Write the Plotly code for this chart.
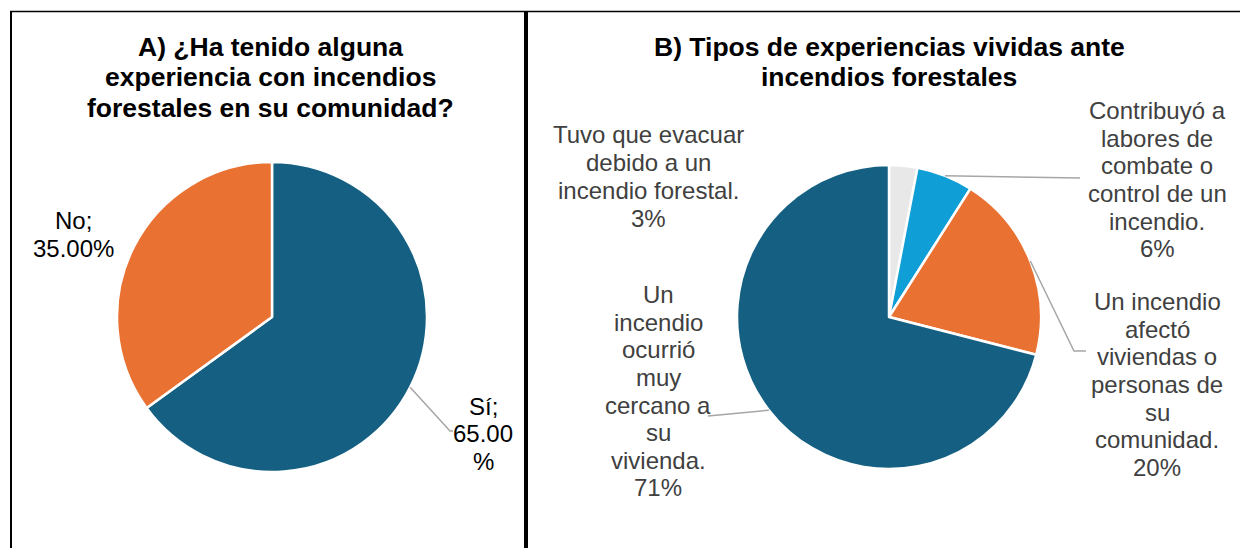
import math
import plotly.graph_objects as go

W, H = 1240, 548

# ---- Panel A: experiencia con incendios forestales ----
a_labels = ["Sí", "No"]
a_values = [65.0, 35.0]
a_colors = ["#156082", "#E97132"]
a_title = ["A) ¿Ha tenido alguna", "experiencia con incendios", "forestales en su comunidad?"]

# ---- Panel B: tipos de experiencias vividas ----
b_labels = [
    "Tuvo que evacuar debido a un incendio forestal.",
    "Contribuyó a labores de combate o control de un incendio.",
    "Un incendio afectó viviendas o personas de su comunidad.",
    "Un incendio ocurrió muy cercano a su vivienda.",
]
b_values = [3, 6, 20, 71]
b_colors = ["#E8E8E8", "#0F9ED5", "#E97132", "#156082"]
b_title = ["B) Tipos de experiencias vividas ante", "incendios forestales"]

# line breaks used for the wrapped data labels of panel B
b_wrapped = [
    ["Tuvo que evacuar", "debido a un", "incendio forestal."],
    ["Contribuyó a", "labores de", "combate o", "control de un", "incendio."],
    ["Un incendio", "afectó", "viviendas o", "personas de", "su", "comunidad."],
    ["Un", "incendio", "ocurrió", "muy", "cercano a", "su", "vivienda."],
]

FONT = "Liberation Sans, Arial, sans-serif"
LEADER = "#A6A6A6"

# pie geometry (pixels): centre x, centre y, radius
A_GEO = (272, 317, 155)
B_GEO = (889, 317, 152)


def px(x):
    return x / W


def py(y):
    return 1 - y / H


def domain(geo):
    cx, cy, r = geo
    return dict(x=[px(cx - r), px(cx + r)], y=[py(cy + r), py(cy - r)])


def mid_point(values, i, geo):
    """Point on the rim at the middle of slice i (clockwise from 12 o'clock)."""
    cx, cy, r = geo
    total = sum(values)
    frac = (sum(values[:i]) + values[i] / 2) / total
    th = 2 * math.pi * frac
    return cx + r * math.sin(th), cy - r * math.cos(th)


fig = go.Figure()

fig.add_trace(go.Pie(
    labels=a_labels, values=a_values, sort=False, direction="clockwise", rotation=0,
    marker=dict(colors=a_colors, line=dict(color="white", width=2.5)),
    textinfo="none", hoverinfo="label+percent", showlegend=False,
    domain=domain(A_GEO),
))
fig.add_trace(go.Pie(
    labels=b_labels, values=b_values, sort=False, direction="clockwise", rotation=0,
    marker=dict(colors=b_colors, line=dict(color="white", width=2.5)),
    textinfo="none", hoverinfo="label+percent", showlegend=False,
    domain=domain(B_GEO),
))

annotations = []
shapes = []


def text_block(lines, cx, first_base, step, size, color, bold=False):
    for k, line in enumerate(lines):
        base = first_base + k * step
        annotations.append(dict(
            x=px(cx), y=py(base - 0.36 * size), xref="paper", yref="paper",
            text=f"<b>{line}</b>" if bold else line, showarrow=False,
            xanchor="center", yanchor="middle",
            font=dict(family=FONT, size=size, color=color),
        ))


def leader(points):
    path = "M " + " L ".join(f"{px(x)},{py(y)}" for x, y in points)
    shapes.append(dict(type="path", path=path, xref="paper", yref="paper",
                       line=dict(color=LEADER, width=1.5)))


# titles
text_block(a_title, 270, 56.5, 30.5, 26.5, "#000000", bold=True)
text_block(b_title, 889, 56.5, 30.5, 26.5, "#000000", bold=True)

# panel A labels
text_block([f"{a_labels[1]};", f"{a_values[1]:.2f}%"], 73, 229, 28, 24, "#000000")
si_pct = f"{a_values[0]:.2f}%"
text_block([f"{a_labels[0]};", si_pct[:-1], si_pct[-1:]], 483, 415, 27.6, 24, "#000000")
leader([mid_point(a_values, 0, A_GEO), (450, 431), (453, 431)])

# panel B labels
LBL = "#404040"
text_block(b_wrapped[0] + [f"{b_values[0]}%"], 648, 143, 28, 24, LBL)
text_block(b_wrapped[1] + [f"{b_values[1]}%"], 1157, 119.3, 27.6, 24, LBL)
text_block(b_wrapped[2] + [f"{b_values[2]}%"], 1157, 310, 27.7, 24, LBL)
text_block(b_wrapped[3] + [f"{b_values[3]}%"], 658, 303.3, 27.6, 24, LBL)

leader([mid_point(b_values, 1, B_GEO), (1080, 178)])
leader([mid_point(b_values, 2, B_GEO), (1074, 351), (1086, 351)])
leader([mid_point(b_values, 3, B_GEO), (708, 416)])

# panel frame lines
shapes.append(dict(type="line", xref="paper", yref="paper",
                   x0=px(10), x1=px(1240), y0=py(11.5), y1=py(11.5),
                   line=dict(color="black", width=1.5)))
shapes.append(dict(type="line", xref="paper", yref="paper",
                   x0=px(11), x1=px(11), y0=py(11), y1=py(548),
                   line=dict(color="black", width=2)))
shapes.append(dict(type="line", xref="paper", yref="paper",
                   x0=px(526), x1=px(526), y0=py(11), y1=py(548),
                   line=dict(color="black", width=4)))

fig.update_layout(
    width=W, height=H,
    margin=dict(l=0, r=0, t=0, b=0),
    paper_bgcolor="white", plot_bgcolor="white",
    annotations=annotations, shapes=shapes,
    font=dict(family=FONT),
)

fig.write_html("out.html")
